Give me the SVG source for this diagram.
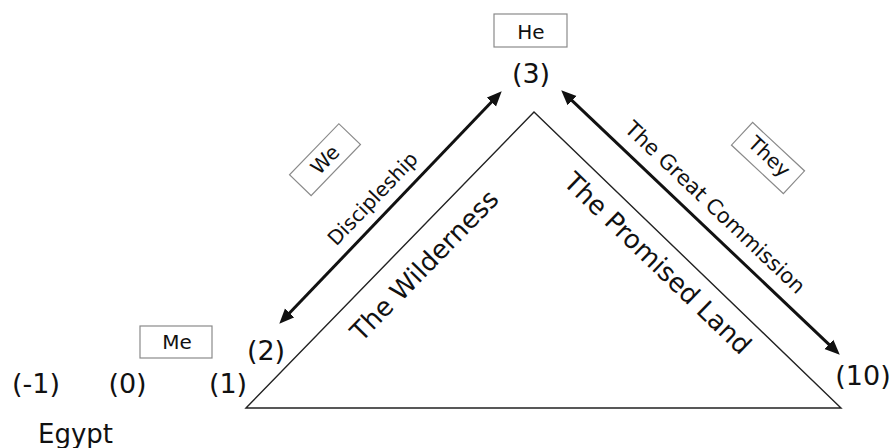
<svg xmlns="http://www.w3.org/2000/svg" width="893" height="448" viewBox="0 0 893 448">
<style>
text{font-family:"DejaVu Sans","Verdana",sans-serif;fill:#111}
.lbl{font-size:27px;text-anchor:middle}
.big{font-size:26px;text-anchor:middle}
.box{fill:#fff;stroke:#8a8a8a;stroke-width:1.2}
.bt{font-size:20px;text-anchor:middle}
.arr{stroke:#111;stroke-width:3;fill:none;marker-start:url(#ah);marker-end:url(#ah)}
</style>
<defs>
<marker id="ah" markerUnits="userSpaceOnUse" markerWidth="16" markerHeight="14" refX="4" refY="6.5" orient="auto-start-reverse" viewBox="0 0 16 13">
<path d="M0,0 L15,6.5 L0,13 Z" fill="#111"/>
</marker>
</defs>
<rect width="893" height="448" fill="#fff"/>
<g id="triangle">
<polygon points="246,408 534,112 841,408" fill="none" stroke="#222" stroke-width="1.4"/>
<text class="big" transform="translate(424,265) rotate(-45.7)" y="9.5">The Wilderness</text>
<text class="big" transform="translate(658,263) rotate(44)" y="9.5">The Promised Land</text>
</g>
<g id="connectors">
<line class="arr" x1="286.9" y1="315.8" x2="494.1" y2="99.2"/>
<line class="arr" x1="569.2" y1="97.9" x2="831.8" y2="347.1"/>
<text transform="translate(374,200) rotate(-46.3)" y="5" style="font-size:20px;text-anchor:middle">Discipleship</text>
<text transform="translate(715,207.5) rotate(43.5)" y="7" style="font-size:21px;text-anchor:middle">The Great Commission</text>
</g>
<g id="node-he">
<rect class="box" x="494" y="14" width="73" height="33"/>
<text class="bt" x="531" y="39">He</text>
</g>
<g id="node-we" transform="translate(325,159.7) rotate(-46)">
<rect class="box" x="-35.5" y="-15" width="71" height="30"/>
<text class="bt" x="0" y="7">We</text>
</g>
<g id="node-they" transform="translate(768,158) rotate(43)">
<rect class="box" x="-35.5" y="-15.5" width="71" height="31"/>
<text class="bt" x="0" y="5">They</text>
</g>
<g id="node-me">
<rect class="box" x="140" y="326" width="72" height="32"/>
<text class="bt" x="177" y="349">Me</text>
</g>
<g id="labels">
<text class="lbl" x="531" y="83">(3)</text>
<text class="lbl" x="266" y="360">(2)</text>
<text class="lbl" x="228" y="393">(1)</text>
<text class="lbl" x="127.5" y="393">(0)</text>
<text class="lbl" x="36" y="393">(-1)</text>
<text class="lbl" x="863" y="385">(10)</text>
<text x="38" y="443" style="font-size:26px">Egypt</text>
</g>
</svg>
